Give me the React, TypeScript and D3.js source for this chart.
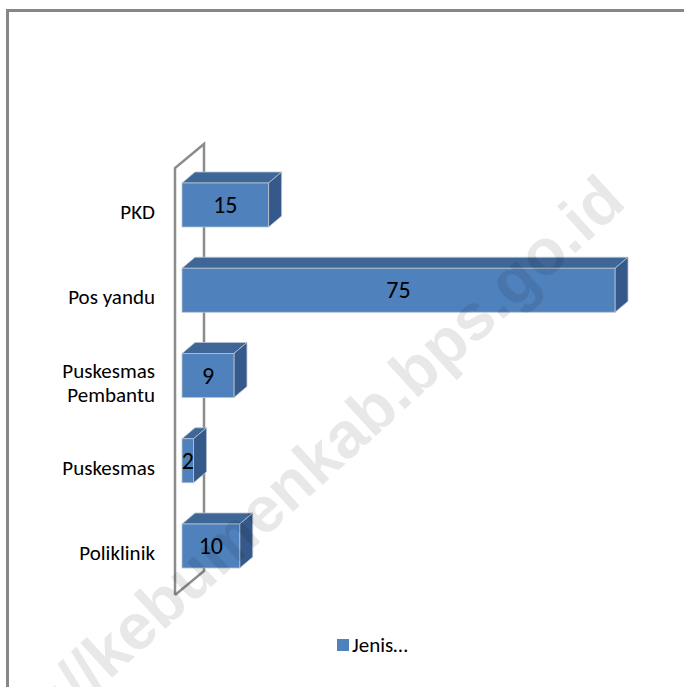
import React from "react";
import * as d3 from "d3";

const categories = ["PKD", "Pos yandu", "Puskesmas Pembantu", "Puskesmas", "Poliklinik"];
const labelLines = [["PKD"], ["Pos yandu"], ["Puskesmas", "Pembantu"], ["Puskesmas"], ["Poliklinik"]];
const values = [15, 75, 9, 2, 10];
const seriesName = "Jenis…";
const watermark = "http://kebumenkab.bps.go.id";

const W = 684;
const H = 687;

export default function App() {
  const x = d3.scaleLinear().domain([0, 75]).range([182, 615]);
  const y = d3.scalePoint<string>().domain(categories).range([205, 546]);
  const barH = 44;
  const dx = 13;
  const dy = -11;
  const font = "Carlito, Calibri, 'Open Sans', sans-serif";

  // wall frame
  const wallL = 175, wallTop = 168, wallBot = 595, wdx = 29, wdy = -24;

  return (
    <svg width={W} height={H} style={{ position: "absolute", left: 0, top: 0 }}>
      <rect x={0} y={0} width={W} height={H} fill="#fff" />
      <rect x={7.5} y={10.5} width={W + 20} height={H + 20} fill="none" stroke="#878787" strokeWidth={3} />
      {/* back wall */}
      <polyline
        points={`${wallL},${wallBot} ${wallL},${wallTop} ${wallL + wdx},${wallTop + wdy} ${wallL + wdx},${wallBot + wdy} ${wallL},${wallBot}`}
        fill="none"
        stroke="#8c8c8c"
        strokeWidth={2.5}
      />
      {categories.map((c, i) => {
        const cy = y(c)!;
        const x0 = x(0);
        const x1 = x(values[i]);
        const t = cy - barH / 2;
        const b = cy + barH / 2;
        return (
          <g key={c}>
            <polygon
              points={`${x0},${t} ${x0 + dx},${t + dy} ${x1 + dx},${t + dy} ${x1},${t}`}
              fill="#3e6797"
              stroke="#b9c3d0"
              strokeWidth={0.8}
            />
            <polygon
              points={`${x1},${t} ${x1 + dx},${t + dy} ${x1 + dx},${b + dy} ${x1},${b}`}
              fill="#35598a"
              stroke="#b9c3d0"
              strokeWidth={0.8}
            />
            <rect x={x0} y={t} width={x1 - x0} height={barH} fill="#4f81bd" stroke="#b9c3d0" strokeWidth={0.8} />
            <text
              x={(x0 + x1) / 2}
              y={cy + 8}
              textAnchor="middle"
              fontFamily={font}
              fontSize={24}
              fill="#000"
            >
              {values[i]}
            </text>
          </g>
        );
      })}
      {categories.map((c, i) => {
        const cy = y(c)!;
        const lines = labelLines[i];
        const start = lines.length === 1 ? cy + 14 : cy + 2;
        return (
          <text key={c} textAnchor="end" fontFamily={font} fontSize={21} fill="#000">
            {lines.map((l, j) => (
              <tspan key={j} x={155} y={start + j * 24}>
                {l}
              </tspan>
            ))}
          </text>
        );
      })}
      {/* legend */}
      <rect x={337} y={639} width={12} height={12} fill="#4f81bd" />
      <text x={352} y={652} fontFamily={font} fontSize={21} fill="#000">
        {seriesName}
      </text>
      {/* watermark */}
      <text
        transform="translate(628,205) rotate(-42.5)"
        textAnchor="end"
        fontFamily="'Liberation Sans', Arial, sans-serif"
        fontWeight="bold"
        fontSize={65}
        fill="#000"
        fillOpacity={0.09}
      >
        {watermark}
      </text>
    </svg>
  );
}
